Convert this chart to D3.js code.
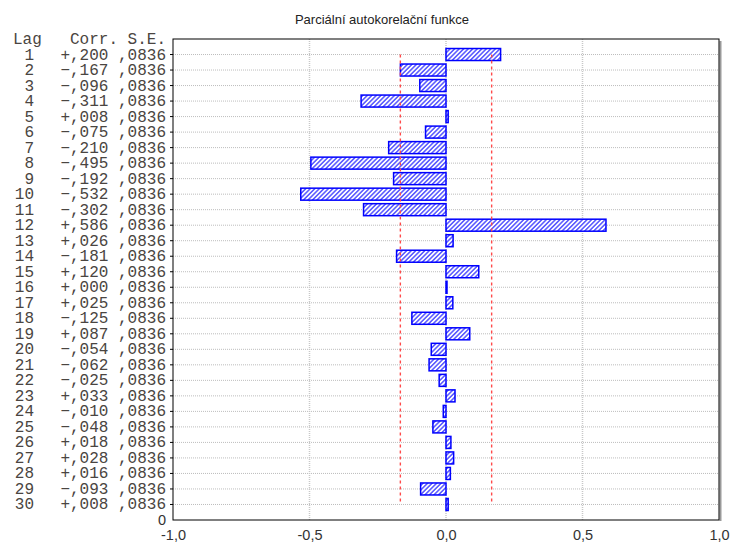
<!DOCTYPE html>
<html>
<head>
<meta charset="utf-8">
<script src="https://cdn.jsdelivr.net/npm/d3@7"></script>
<style>
  body { margin: 0; background: #fff; }
  svg { display: block; }
</style>
</head>
<body>
<svg id="chart" width="730" height="544"></svg>
<script>
var lags = d3.range(1, 31)
var corr = [0.200, -0.167, -0.096, -0.311, 0.008, -0.075, -0.210, -0.495, -0.192, -0.532,
            -0.302, 0.586, 0.026, -0.181, 0.120, 0.000, 0.025, -0.125, 0.087, -0.054,
            -0.062, -0.025, 0.033, -0.010, -0.048, 0.018, 0.028, 0.016, -0.093, 0.008]
var se = 0.0836
var xTicks = [-1, -0.5, 0, 0.5, 1]

var svg = d3.select('#chart')
// plot box (note: "top" is taken by window.top)
var pLeft = 173, pRight = 719, pTop = 39, pBottom = 520

var x = d3.scaleLinear().domain([-1, 1]).range([pLeft, pRight])
var y = d3.scaleLinear().domain([0, 31]).range([pTop, pBottom])

var fmt = function (v) {
  var s = Math.abs(v).toFixed(3).replace('0.', ',')
  return (v < 0 ? '\u2212' : '+') + s
}

// hatch pattern
var defs = svg.append('defs')
var pat = defs.append('pattern')
  .attr('id', 'hatch')
  .attr('patternUnits', 'userSpaceOnUse')
  .attr('width', 3.2).attr('height', 4)
  .attr('patternTransform', 'rotate(45)')
pat.append('rect').attr('width', 3.2).attr('height', 4).attr('fill', '#fff')
pat.append('line')
  .attr('x1', 0.8).attr('y1', 0).attr('x2', 0.8).attr('y2', 4)
  .attr('stroke', '#3a3aff').attr('stroke-width', 1.3)

// title
svg.append('text')
  .attr('x', 382).attr('y', 24)
  .attr('text-anchor', 'middle')
  .style('font', '13px "Liberation Sans", Arial, sans-serif')
  .style('fill', '#222')
  .text('Parciální autokorelační funkce')

// grid
svg.append('g').selectAll('line')
  .data(lags).enter().append('line')
  .attr('x1', pLeft).attr('x2', pRight)
  .attr('y1', function (d) { return y(d) }).attr('y2', function (d) { return y(d) })
  .attr('stroke', '#bdbdbd').attr('stroke-dasharray', '1,1')

svg.append('g').selectAll('line')
  .data([-0.5, 0, 0.5]).enter().append('line')
  .attr('x1', function (d) { return x(d) }).attr('x2', function (d) { return x(d) })
  .attr('y1', pTop).attr('y2', pBottom)
  .attr('stroke', '#c8c8c8').attr('stroke-width', 1.5).attr('stroke-dasharray', '1,1')

// bars
svg.append('g').selectAll('rect')
  .data(lags).enter().append('rect')
  .attr('x', function (d, i) { return Math.min(x(0), x(corr[i])) })
  .attr('y', function (d) { return y(d) - 6 })
  .attr('width', function (d, i) { return Math.max(1, Math.abs(x(corr[i]) - x(0))) })
  .attr('height', 12)
  .attr('fill', 'url(#hatch)')
  .attr('stroke', '#0000ff').attr('stroke-width', 1.5)

// confidence limits
var lim = [-2 * se, 2 * se]
svg.append('g').selectAll('line')
  .data(lim).enter().append('line')
  .attr('x1', function (d) { return x(d) }).attr('x2', function (d) { return x(d) })
  .attr('y1', y(1)).attr('y2', y(30))
  .attr('stroke', '#ff4a4a').attr('stroke-width', 1.4).attr('stroke-dasharray', '3,3')

// frame with shadow
svg.append('line')
  .attr('x1', pRight + 1.5).attr('x2', pRight + 1.5)
  .attr('y1', pTop + 2).attr('y2', pBottom + 1)
  .attr('stroke', '#999').attr('stroke-width', 2)
svg.append('rect')
  .attr('x', pLeft).attr('y', pTop)
  .attr('width', pRight - pLeft).attr('height', pBottom - pTop)
  .attr('fill', 'none').attr('stroke', '#000').attr('stroke-width', 1)

// y ticks
svg.append('g').selectAll('line')
  .data(lags).enter().append('line')
  .attr('x1', pLeft - 3).attr('x2', pLeft)
  .attr('y1', function (d) { return y(d) }).attr('y2', function (d) { return y(d) })
  .attr('stroke', '#000')

// x axis labels
var xAxis = d3.axisBottom(x).tickValues(xTicks).tickSize(0).tickPadding(10)
  .tickFormat(function (d) { return d3.format('.1f')(d).replace('.', ',').replace('\u2212', '-') })
var gx = svg.append('g').attr('transform', 'translate(0,' + pBottom + ')').call(xAxis)
gx.select('.domain').remove()
gx.selectAll('text')
  .style('font', '14.5px "Liberation Sans", Arial, sans-serif')
  .style('fill', '#333')

svg.append('text')
  .attr('x', 166).attr('y', pBottom + 5)
  .attr('text-anchor', 'end')
  .style('font', '14.5px "Liberation Sans", Arial, sans-serif')
  .style('fill', '#333')
  .text('0')

// table text
var mono = '16px "Liberation Mono", "Courier New", monospace'
var ink = '#4a4541'
svg.append('text').attr('x', 13).attr('y', 44)
  .style('font', mono).style('fill', ink).text('Lag')
svg.append('text').attr('x', 166).attr('y', 44).attr('text-anchor', 'end')
  .style('font', mono).style('fill', ink).text('Corr. S.E.')

svg.append('g').selectAll('text')
  .data(lags).enter().append('text')
  .attr('x', 34).attr('y', function (d) { return y(d) + 5 })
  .attr('text-anchor', 'end')
  .style('font', mono).style('fill', ink)
  .text(function (d) { return d })

svg.append('g').selectAll('text')
  .data(lags).enter().append('text')
  .attr('x', 166).attr('y', function (d) { return y(d) + 5 })
  .attr('text-anchor', 'end')
  .style('font', mono).style('fill', ink)
  .text(function (d, i) { return fmt(corr[i]) + ' ' + (',' + se.toFixed(4).split('.')[1]) })
</script>
</body>
</html>
